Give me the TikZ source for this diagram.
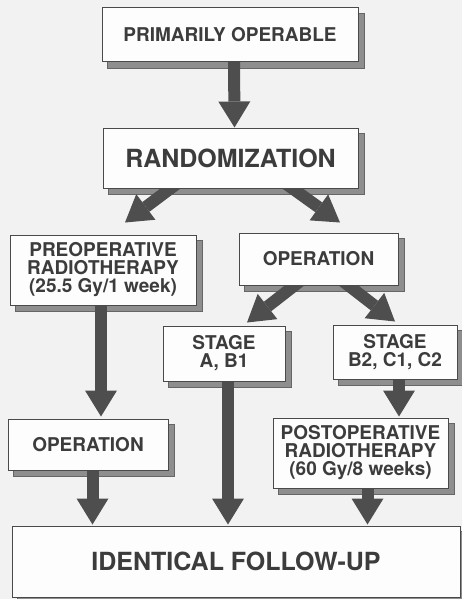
\documentclass[tikz,border=0pt]{standalone}
\usepackage{fontspec}
\setmainfont{TeX Gyre Heros}
\usetikzlibrary{arrows.meta,calc}
\pgfdeclarelayer{shad}
\pgfdeclarelayer{arr}
\pgfsetlayers{shad,arr,main}
\definecolor{bgc}{HTML}{F2F2F2}
\definecolor{boxc}{HTML}{FDFDFD}
\definecolor{linec}{HTML}{4A4A4A}
\definecolor{txtc}{HTML}{3C3C3C}
\definecolor{arrc}{HTML}{4E4E4E}
\definecolor{shadc}{HTML}{8E8E8E}
\begin{document}
\begin{tikzpicture}[x=1pt,y=-1pt,
  box/.style={draw=linec, line width=1pt, fill=boxc, text=txtc, align=center,
    inner sep=0pt, font=\bfseries\fontsize{19}{18}\selectfont},
  bigtext/.style={font=\bfseries\fontsize{25}{28}\selectfont},
  bigarrow/.style={draw=arrc, fill=arrc, line width=12pt,
    -{Triangle[length=26pt,width=32pt,line width=0pt]}},
  shadowbox/.style={fill=shadc, draw=black!60, line width=0.6pt}]
\useasboundingbox (0,0) rectangle (462,599);

% boxes
\node[box, minimum width=256pt, minimum height=54pt] (prim) at (230,35) {PRIMARILY OPERABLE};
\node[box, bigtext, minimum width=255pt, minimum height=60pt] (rand) at (230.5,158) {RANDOMIZATION};
\node[box, minimum width=186pt, minimum height=70pt] (preop) at (103,270) {PREOPERATIVE\\RADIOTHERAPY\\(25.5 Gy/1 week)};
\node[box, minimum width=159pt, minimum height=52pt] (opone) at (318.5,259) {OPERATION};
\node[box, minimum width=122pt, minimum height=55pt] (sta) at (224,353.5) {STAGE\\A, B1};
\node[box, minimum width=124pt, minimum height=54pt] (stb) at (395,352) {STAGE\\B2, C1, C2};
\node[box, minimum width=160pt, minimum height=51pt] (optwo) at (88,444.5) {OPERATION};
\node[box, minimum width=175pt, minimum height=70pt] (postop) at (360.5,453) {POSTOPERATIVE\\RADIOTHERAPY\\(60 Gy/8 weeks)};
\node[box, bigtext, minimum width=448pt, minimum height=71pt] (follow) at (236,561.5) {IDENTICAL FOLLOW-UP};

% background and shadows
\begin{pgfonlayer}{shad}
\fill[bgc] (0,0) rectangle (462,599);
\foreach \n in {prim,rand,preop,opone,sta,stb,optwo,postop,follow}
  \filldraw[shadowbox] ($(\n.south west)+(6,6)$) rectangle ($(\n.north east)+(6,6)$);
\end{pgfonlayer}

% arrows
\begin{pgfonlayer}{arr}
\draw[bigarrow] ($(prim.south)+(4,-6)$) -- ($(rand.north)+(4,0)$);

\coordinate (ea) at ($(rand.south)+(-60,0)$);
\coordinate (ta) at ($(preop.north)+(22,-12)$);
\draw[bigarrow] ($(ea)!-0.3!(ta)$) -- (ta);

\coordinate (eb) at ($(rand.south)+(62,0)$);
\coordinate (tb) at ($(opone.north)+(21.5,-10)$);
\draw[bigarrow] ($(eb)!-0.3!(tb)$) -- (tb);

\coordinate (ec) at ($(opone.south)+(-24,0)$);
\coordinate (tc) at ($(sta.north)+(23,-3)$);
\draw[bigarrow] ($(ec)!-0.3!(tc)$) -- (tc);

\coordinate (ed) at ($(opone.south)+(30,0)$);
\coordinate (td) at ($(stb.north)+(0,-3)$);
\draw[bigarrow] ($(ed)!-0.3!(td)$) -- (td);

\draw[bigarrow] ($(preop.south)+(-2,-6)$) -- ($(optwo.north)+(13,-2)$);
\draw[bigarrow] ($(sta.south)+(4,-6)$) -- ($(follow.north)+(-8,-1)$);
\draw[bigarrow] ($(stb.south)+(4,-6)$) -- ($(postop.north)+(38.5,-1)$);
\draw[bigarrow] ($(optwo.south)+(4.5,-6)$) -- ($(follow.north)+(-143.5,-1)$);
\draw[bigarrow] ($(postop.south)+(7,-6)$) -- ($(follow.north)+(131.5,-1)$);
\end{pgfonlayer}
\end{tikzpicture}
\end{document}
